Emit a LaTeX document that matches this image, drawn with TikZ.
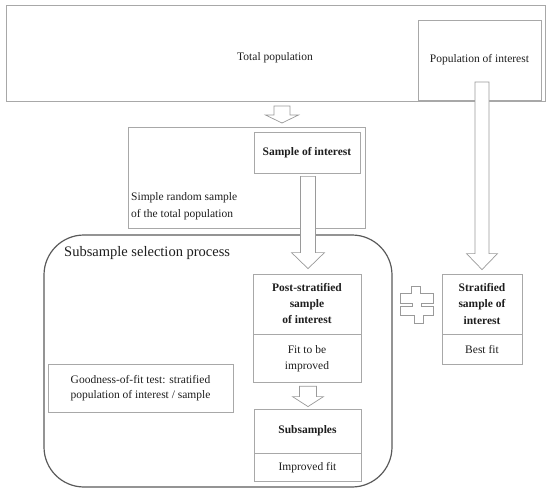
\documentclass[tikz,border=0pt]{standalone}
\usepackage{fontspec}
\setmainfont{Liberation Serif}
\usetikzlibrary{calc}
\definecolor{boxgray}{HTML}{A8A8A8}
\definecolor{arrgray}{HTML}{9A9A9A}
\definecolor{procgray}{HTML}{5A5A5A}
\definecolor{txt}{HTML}{1E1E1E}
\tikzset{
  box/.style={draw=boxgray, line width=0.8pt, inner sep=0pt, align=center,
    font=\fontsize{11.5}{16}\selectfont, text=txt},
  plain/.style={inner sep=0pt, align=center, font=\fontsize{11.5}{16}\selectfont, text=txt},
  barrow/.style={draw=arrgray, line width=0.7pt, fill=white, line join=miter},
  procbox/.style={draw=procgray, line width=1.2pt, rounded corners=40pt, inner sep=0pt}
}
\newcommand{\blockarrow}[5]{%
  \draw[barrow] let \p1=(#1), \p2=(#2) in
    (\x2-#3pt,\y1) -- (\x2+#3pt,\y1) -- (\x2+#3pt,\y2+#5pt) -- (\x2+#4pt,\y2+#5pt)
    -- (\x2,\y2) -- (\x2-#4pt,\y2+#5pt) -- (\x2-#3pt,\y2+#5pt) -- cycle;
}
\begin{document}
\begin{tikzpicture}[x=1pt,y=-1pt]
\useasboundingbox (0,0) rectangle (550,495);
% top level
\node[box, minimum width=539, minimum height=96] (total) at (275.5,53) {};
\node[plain] (totallbl) at (275,58) {Total population};
\node[box, minimum width=123, minimum height=80] (popint) at (479.5,60) {Population of interest};
% simple random sample
\node[box, minimum width=237, minimum height=101] (srs) at (246.5,177.5) {};
\node[box, minimum width=106, minimum height=41, font=\fontsize{11.5}{16}\selectfont\bfseries] (soi) at (307,152.5) {Sample of interest};
\node[plain, anchor=west, align=left, font=\fontsize{11.5}{17.5}\selectfont] (srslbl) at (131,206) {Simple random sample\\of the total population};
% process box
\node[procbox, minimum width=348, minimum height=252] (proc) at (218,361) {};
\node[plain, anchor=west, font=\fontsize{14.5}{17}\selectfont] (proclbl) at (64,253) {Subsample selection process};
% post-stratified
\node[box, minimum width=108, minimum height=60, font=\fontsize{11.5}{16}\selectfont\bfseries] (pst) at (307,304) {Post-stratified\\sample\\of interest};
\node[box, minimum width=108, minimum height=48, anchor=north] (psb) at (pst.south) {Fit to be\\improved};
% stratified
\node[box, minimum width=80, minimum height=60, font=\fontsize{11.5}{16.5}\selectfont\bfseries] (stt) at (482,304) {Stratified\\sample of\\interest};
\node[box, minimum width=80, minimum height=30, anchor=north] (stb) at (stt.south) {Best fit};
% subsamples
\node[box, minimum width=107, minimum height=44, font=\fontsize{11.5}{16}\selectfont\bfseries] (sst) at (307.5,431) {Subsamples};
\node[box, minimum width=107, minimum height=28, anchor=north] (ssb) at (sst.south) {Improved fit};
% goodness of fit
\node[box, minimum width=185, minimum height=48, font=\fontsize{11.5}{15}\selectfont] (gof) at (140.5,388) {Goodness-of-fit test: stratified\\population of interest / sample};
% arrow end points
\coordinate (a1s) at (282,106);
\coordinate (a1t) at (282,123);
\coordinate (a2s) at ($(soi.south)+(1,3)$);
\coordinate (a2t) at ($(pst.north)+(1,-5)$);
\coordinate (a3s) at (482,82);
\coordinate (a3t) at ($(stt.north)+(0,-4)$);
\coordinate (a4s) at ($(psb.south)+(1,3)$);
\coordinate (a4t) at ($(sst.north)+(0.5,-2)$);
\blockarrow{a1s}{a1t}{8}{16.5}{8}
\blockarrow{a2s}{a2t}{7.5}{16.5}{16}
\blockarrow{a3s}{a3t}{7}{15.5}{16}
\blockarrow{a4s}{a4t}{8.5}{15.5}{10}
% not-equal symbol
\draw[barrow] (411,286) -- (420,286) -- (420,293) -- (433,293) -- (433,303) -- (421,303)
  -- (421,306) -- (433,306) -- (433,315) -- (423,315) -- (423,323) -- (414,323)
  -- (414,315) -- (400,315) -- (400,306) -- (412,306) -- (412,303) -- (400,303)
  -- (400,293) -- (411,293) -- cycle;
\end{tikzpicture}
\end{document}
